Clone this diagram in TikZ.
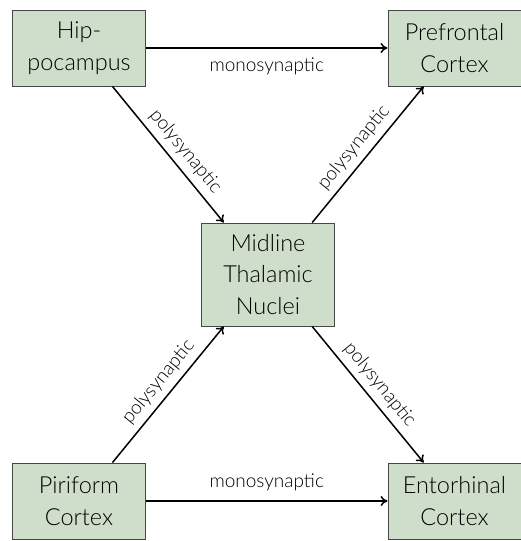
\documentclass[tikz,border=0pt]{standalone}
\usepackage{fontspec}
\setmainfont{Lato Light}
\usetikzlibrary{arrows.meta,calc}
\definecolor{boxfill}{RGB}{207,222,202}
\definecolor{boxline}{RGB}{70,70,70}
\tikzset{
  region/.style={draw=boxline, line width=0.9pt, fill=boxfill, align=center,
    minimum width=133pt, inner sep=0pt, font=\fontsize{23.5}{31.5}\selectfont},
  link/.style={line width=1.5pt, -{To[length=7pt,width=10pt]}},
  lbl/.style={font=\fontsize{19}{22}\selectfont, inner sep=2pt}
}
\begin{document}
\begin{tikzpicture}[x=1pt,y=-1pt]
  \useasboundingbox (0,0) rectangle (521,541);
  % regions
  \node[region, minimum height=76pt] (hip) at (79,48) {Hip-\\pocampus};
  \node[region, minimum height=76pt] (pfc) at (454.5,48) {Prefrontal\\Cortex};
  \node[region, minimum height=103pt] (mtn) at (268,274.5) {Midline\\Thalamic\\Nuclei};
  \node[region, minimum height=76pt] (pir) at (79,501) {Piriform\\Cortex};
  \node[region, minimum height=76pt] (ent) at (454.5,501) {Entorhinal\\Cortex};
  % direct pathways
  \draw[link] (hip.east) -- node[lbl, below=7pt] {monosynaptic} (pfc.west);
  \draw[link] (pir.east) -- node[lbl, above=7pt] {monosynaptic} (ent.west);
  % relays through the thalamus
  \draw[link] ($(hip.south west)!0.75!(hip.south east)$) -- node[lbl, sloped, above=4pt, pos=0.55] {polysynaptic} ($(mtn.north west)!0.17!(mtn.north east)$);
  \draw[link] ($(mtn.north west)!0.83!(mtn.north east)$) -- node[lbl, sloped, above=4pt, pos=0.48] {polysynaptic} ($(pfc.south west)!0.27!(pfc.south east)$);
  \draw[link] ($(pir.north west)!0.75!(pir.north east)$) -- node[lbl, sloped, above=4pt, pos=0.52] {polysynaptic} ($(mtn.south west)!0.17!(mtn.south east)$);
  \draw[link] ($(mtn.south west)!0.83!(mtn.south east)$) -- node[lbl, sloped, above=4pt, pos=0.5] {polysynaptic} ($(ent.north west)!0.27!(ent.north east)$);
\end{tikzpicture}
\end{document}
